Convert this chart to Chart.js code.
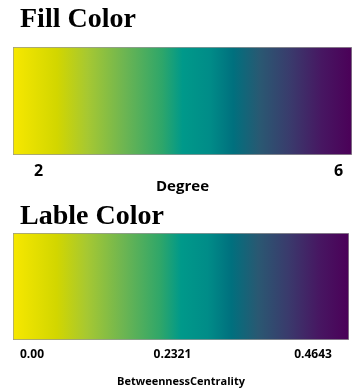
<!DOCTYPE html>
<html>
<head>
<meta charset="utf-8">
<script src="https://cdn.jsdelivr.net/npm/chart.js@4/dist/chart.umd.min.js"></script>
<style>
  body { margin: 0; background: #fff; }
  .box { position: relative; width: 353px; }
</style>
</head>
<body>
<div class="box" style="height:200px"><canvas id="fillChart"></canvas></div>
<div class="box" style="height:191px"><canvas id="labelChart"></canvas></div>
<script>
// Colour bar data
const degreeRange = [2, 6];
const degreeTicks = [2, 6];
const degreeTickLabels = ["2", "6"];

const betweennessRange = [0, 0.4643];
const betweennessTicks = [0, 0.2321, 0.4643];
const betweennessTickLabels = ["0.00", "0.2321", "0.4643"];

// reversed viridis, as seen in the picture
const colorStops = [
    [0.00, "#f7e800"],
    [0.13, "#d2d600"],
    [0.22, "#a6c832"],
    [0.33, "#6cb552"],
    [0.44, "#2ea66a"],
    [0.50, "#00998a"],
    [0.58, "#008c88"],
    [0.65, "#00707e"],
    [0.73, "#2a5872"],
    [0.82, "#3a3a6c"],
    [0.91, "#471762"],
    [1.00, "#4b0058"]
];

const gradientFill = (context) => {
    const { ctx, chartArea } = context.chart;
    if (!chartArea) return null;
    const g = ctx.createLinearGradient(chartArea.left, 0, chartArea.right, 0);
    colorStops.forEach(([pos, col]) => g.addColorStop(pos, col));
    return g;
};

// nudge the title a little right of the bar edge
const titleIndent = {
    id: "titleIndent",
    afterLayout(chart) {
        if (chart.titleBlock) {
            chart.titleBlock.left += 7;
            chart.titleBlock.right += 7;
        }
    }
};

const makeColorBar = (canvas, opts) => {
    return new Chart(canvas, {
        type: "bar",
        data: {
            labels: [""],
            datasets: [{
                data: [opts.range],
                backgroundColor: gradientFill,
                borderColor: "rgba(140,140,140,0.9)",
                borderWidth: 1,
                borderSkipped: false,
                barPercentage: 1,
                categoryPercentage: 1,
                xAxisID: "x"
            }]
        },
        plugins: [titleIndent],
        options: {
            indexAxis: "y",
            responsive: true,
            maintainAspectRatio: false,
            animation: false,
            layout: { padding: opts.padding },
            plugins: {
                legend: { display: false },
                tooltip: { enabled: false },
                title: {
                    display: true,
                    text: opts.title,
                    align: "start",
                    color: "#000",
                    font: { family: "'Liberation Serif', 'Times New Roman', serif", size: 28, weight: "bold", lineHeight: 1 },
                    padding: opts.titlePadding
                }
            },
            scales: {
                y: { display: false },
                x: {
                    display: false,
                    min: opts.range[0],
                    max: opts.range[1]
                },
                xt: {
                    type: "linear",
                    position: "bottom",
                    min: opts.tickMin,
                    max: opts.tickMax,
                    afterBuildTicks: (axis) => {
                        axis.ticks = opts.ticks.map(v => ({ value: v }));
                    },
                    grid: { display: false, drawTicks: false },
                    border: { display: false },
                    ticks: {
                        padding: opts.tickPadding,
                        color: "#000",
                        maxRotation: 0,
                        autoSkip: false,
                        font: { family: "'Open Sans', sans-serif", size: opts.tickSize, weight: "bold" },
                        callback: (value, i) => opts.tickLabels[i]
                    },
                    title: {
                        display: true,
                        text: opts.axisTitle,
                        color: "#000",
                        font: { family: "'Open Sans', sans-serif", size: opts.axisTitleSize, weight: "bold" },
                        padding: opts.axisTitlePadding
                    }
                }
            }
        }
    });
};

makeColorBar(document.getElementById("fillChart"), {
    title: "Fill Color",
    range: degreeRange,
    ticks: degreeTicks,
    tickLabels: degreeTickLabels,
    tickMin: 1.66,
    tickMax: 6.18,
    tickSize: 16,
    tickPadding: 6.5,
    axisTitle: "Degree",
    axisTitleSize: 15,
    axisTitlePadding: { top: -9.2, bottom: 0 },
    titlePadding: { top: 6, bottom: 13 },
    padding: { left: 13, right: 1, top: 0, bottom: 4 }
});

makeColorBar(document.getElementById("labelChart"), {
    title: "Lable Color",
    range: betweennessRange,
    ticks: betweennessTicks,
    tickLabels: betweennessTickLabels,
    tickMin: -0.0314,
    tickMax: 0.5238,
    tickSize: 12,
    tickPadding: 7.5,
    axisTitle: "BetweennessCentrality",
    axisTitleSize: 11,
    axisTitlePadding: { top: 6, bottom: 0 },
    titlePadding: { top: 3, bottom: 2 },
    padding: { left: 13, right: 4, top: 0, bottom: 2.4 }
});
</script>
</body>
</html>
